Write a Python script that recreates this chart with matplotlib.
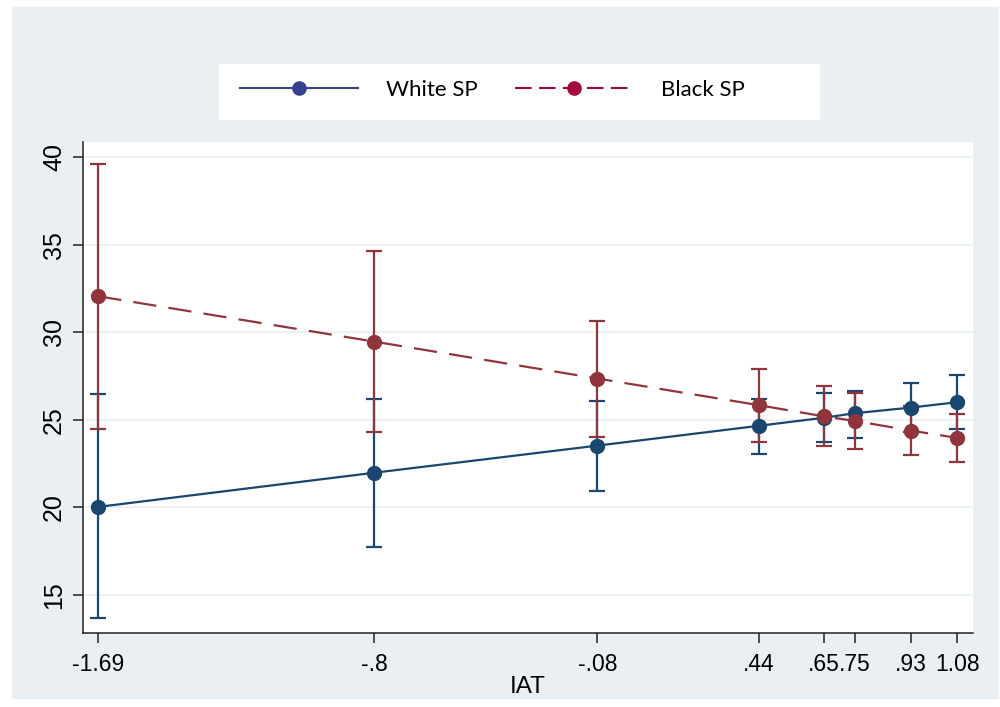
import matplotlib
matplotlib.use("Agg")
import matplotlib.pyplot as plt
import numpy as np
from matplotlib import font_manager
from matplotlib.lines import Line2D
from matplotlib.patches import Rectangle

# margins of the outcome over IAT, with 95% CIs
iat = [-1.69, -0.8, -0.08, 0.44, 0.65, 0.75, 0.93, 1.08]
iat_labels = ["-1.69", "-.8", "-.08", ".44", ".65", ".75", ".93", "1.08"]

white_sp = [20.03, 21.98, 23.53, 24.66, 25.12, 25.38, 25.70, 26.01]
white_lo = [13.67, 17.75, 20.96, 23.04, 23.73, 23.95, 24.30, 24.47]
white_hi = [26.47, 26.20, 26.10, 26.22, 26.52, 26.66, 27.10, 27.57]

black_sp = [32.06, 29.47, 27.36, 25.84, 25.20, 24.94, 24.39, 23.97]
black_lo = [24.50, 24.28, 24.03, 23.74, 23.51, 23.36, 22.98, 22.58]
black_hi = [39.62, 34.64, 30.67, 27.91, 26.94, 26.52, 25.80, 25.34]

y_ticks = [15, 20, 25, 30, 35, 40]

navy = "#1a476f"
maroon = "#90353b"
bg = "#e9eff2"


def has_font(name):
    try:
        font_manager.findfont(name, fallback_to_default=False)
        return True
    except Exception:
        return False


tick_font = "Liberation Sans"
ytick_font = "Liberation Sans Narrow" if has_font("Liberation Sans Narrow") else tick_font
legend_font = "Lato"

fig = plt.figure(figsize=(10, 7.07), dpi=100)
W, H = 1000, 707
fig.patches.append(Rectangle((12 / W, 1 - 698 / H), 986 / W, 691 / H,
                             transform=fig.transFigure, color=bg, zorder=-2))
fig.patches.append(Rectangle((219 / W, 1 - 119 / H), 600 / W, 55 / H,
                             transform=fig.transFigure, color="white", zorder=-1))

ax = fig.add_axes([82.7 / W, 1 - 633.3 / H, (973 - 82.7) / W, (633.3 - 142) / H])
ax.set_zorder(1)
ax.set_facecolor("white")

w = np.array(white_sp)
b = np.array(black_sp)
ax.errorbar(iat, w, yerr=[w - np.array(white_lo), np.array(white_hi) - w],
            fmt="none", ecolor=navy, elinewidth=1.6, capsize=5.5, capthick=1.6, zorder=2)
ax.errorbar(iat, b, yerr=[b - np.array(black_lo), np.array(black_hi) - b],
            fmt="none", ecolor=maroon, elinewidth=1.6, capsize=5.5, capthick=1.6, zorder=3)
ax.plot(iat, w, color=navy, lw=1.6, marker="o", ms=10, zorder=4)
ax.plot(iat, b, color=maroon, lw=1.6, marker="o", ms=10, dashes=(10.5, 5.5), zorder=5)

ax.set_xlim(-1.740, 1.131)
ax.set_ylim(12.81, 40.87)
ax.set_xticks(iat)
ax.set_xticklabels(iat_labels, fontsize=16.5, family=tick_font)
ax.set_yticks(y_ticks)
ax.set_yticklabels([str(t) for t in y_ticks], fontsize=18, family=ytick_font,
                   rotation=90, va="center")
ax.tick_params(length=7, width=1.1, color="#222222")
ax.tick_params(axis="x", pad=7)
ax.tick_params(axis="y", pad=5)
ax.yaxis.grid(True, color="#eaf2f3", lw=1.5)
ax.set_axisbelow(True)
for side in ["top", "right"]:
    ax.spines[side].set_visible(False)
for side in ["left", "bottom"]:
    ax.spines[side].set_linewidth(1.1)
    ax.spines[side].set_color("#222222")
ax.set_xlabel("IAT", fontsize=17.5, family=tick_font, labelpad=0)

handles = [
    Line2D([], [], color="#35408f", lw=1.5, marker="o", ms=9.5),
    Line2D([], [], color="#a3093b", lw=1.5, marker="o", ms=9.5, dashes=(8, 3.5)),
]
fig.legend(handles, ["White SP", "Black SP"], loc="center left",
           bbox_to_anchor=(240 / W, 1 - 90 / H), ncol=2, frameon=False,
           borderaxespad=0, borderpad=0, handlelength=5.3, handletextpad=1.25,
           columnspacing=1.7, numpoints=1, prop={"family": legend_font, "size": 16})

fig.savefig("out.png", dpi=100)
